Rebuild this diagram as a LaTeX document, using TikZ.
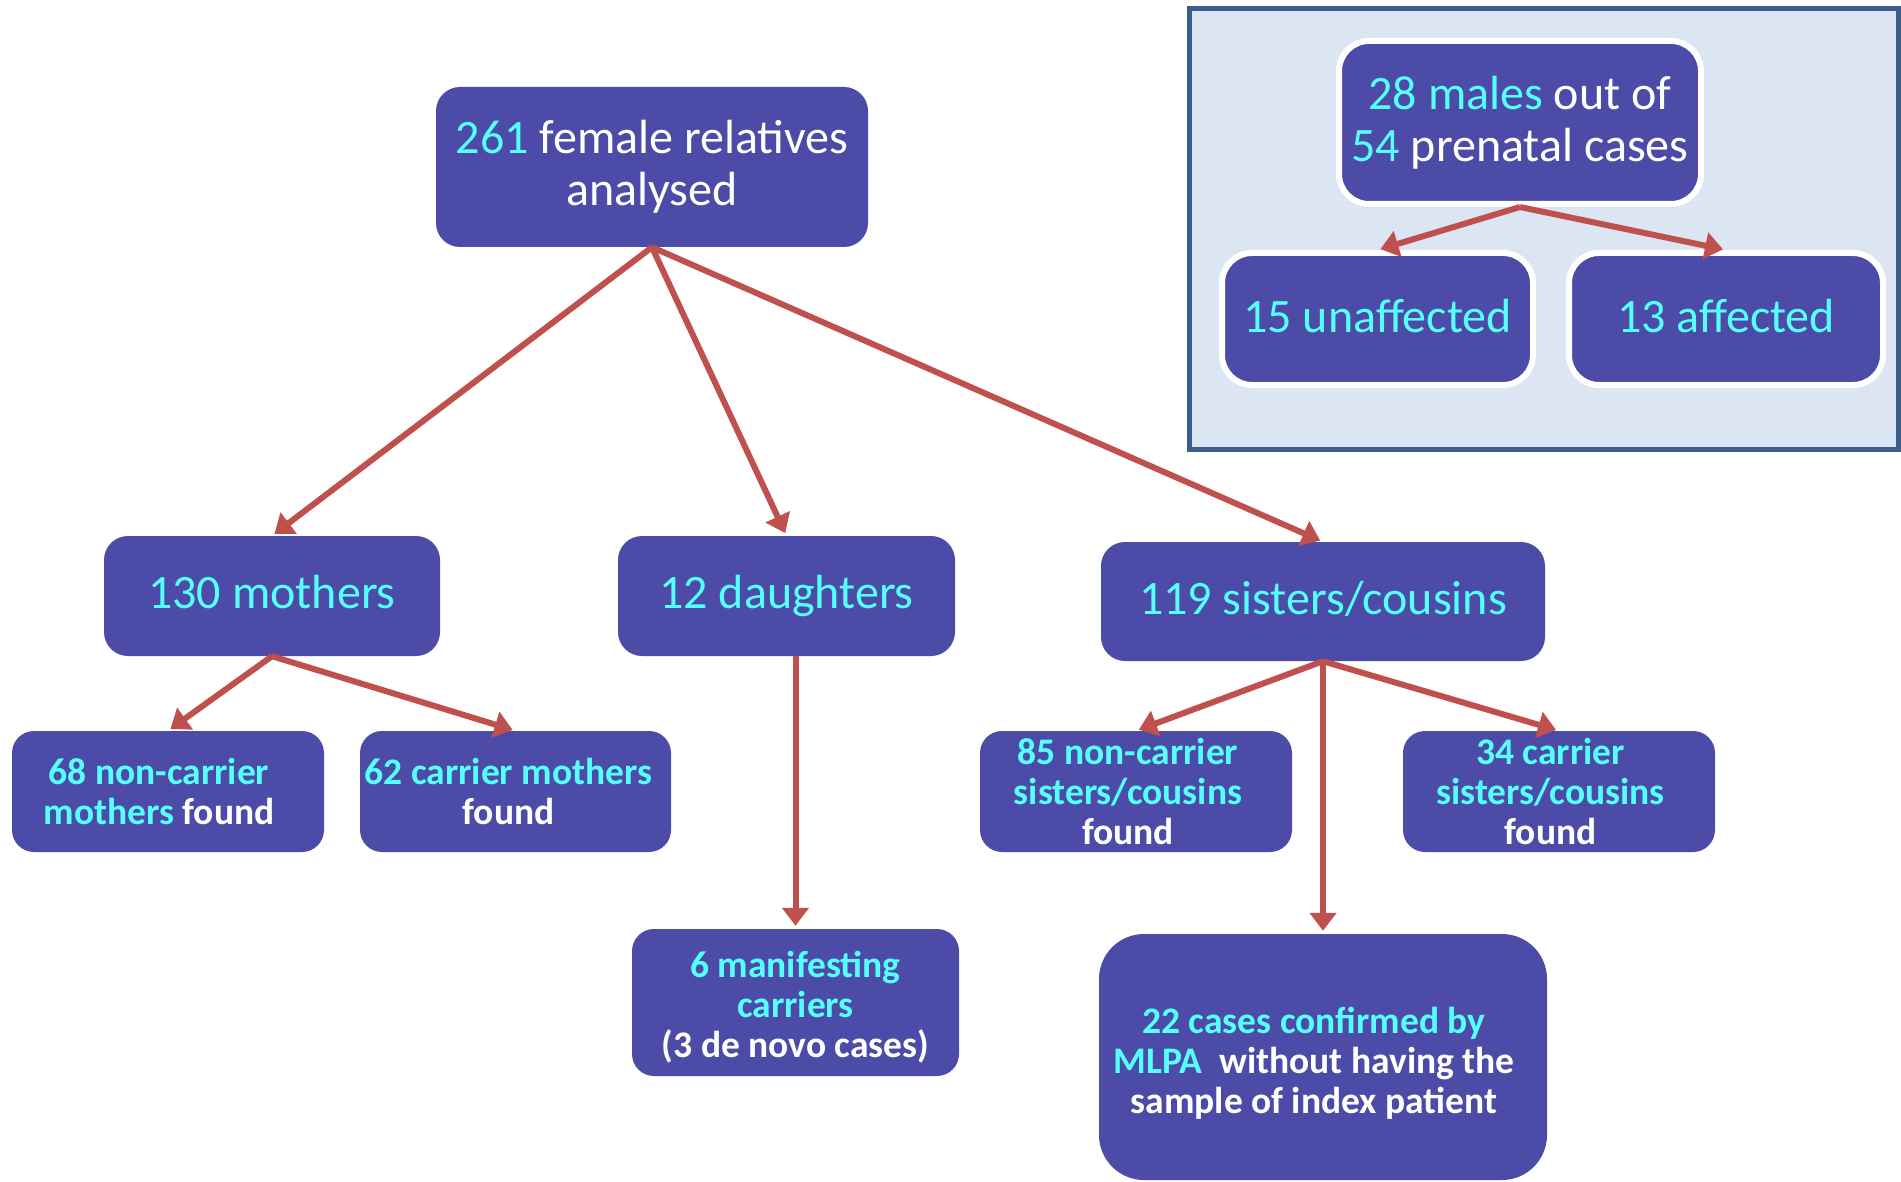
\documentclass[tikz,border=0pt]{standalone}
\usepackage{fontspec}
\setmainfont{Carlito}
\usetikzlibrary{arrows.meta}
\definecolor{boxblue}{RGB}{76,76,168}
\definecolor{cyantext}{RGB}{85,255,255}
\definecolor{arrowred}{RGB}{192,80,77}
\definecolor{panelfill}{RGB}{220,230,242}
\definecolor{panelborder}{RGB}{58,95,143}
\newcommand\cyn[1]{\textcolor{cyantext}{#1}}
% #1 extra right space (= twice the left shift), #2 vertical shift, #3 lines
\newcommand\shifttext[3]{\raisebox{#2}[\height][\depth]{\begin{tabular}{@{}c@{}}#3\end{tabular}}\hspace*{#1}}
\tikzset{
  bigbox/.style={fill=boxblue, rounded corners=24pt, inner sep=0pt, align=center, text=white, font=\fontsize{48}{52}\selectfont},
  smallbox/.style={fill=boxblue, rounded corners=22pt, inner sep=0pt, text=white, font=\fontsize{37.5}{40}\selectfont\bfseries},
  insetbox/.style={bigbox, draw=white, line width=6pt, rounded corners=30pt},
  conn/.style={draw=arrowred, line width=6pt, shorten >=3pt, -{Triangle[width=26pt,length=18pt]}},
}
\begin{document}
\begin{tikzpicture}[x=1pt,y=-1pt]
\fill[white] (0,0) rectangle (1901,1182);
\useasboundingbox (0,0) rectangle (1901,1182);

% inset panel
\draw[fill=panelfill, draw=panelborder, line width=5pt] (1189,9) rectangle (1898,449);
\node[insetbox, minimum width=362pt, minimum height=163pt] (males) at (1520,122.5) {\cyn{28 males} out of\\\cyn{54} prenatal cases};
\node[insetbox, minimum width=311pt, minimum height=132pt] (unaff) at (1377.5,319) {\shifttext{0pt}{-3pt}{\cyn{15 unaffected}}};
\node[insetbox, minimum width=314pt, minimum height=132pt] (aff) at (1726,319) {\shifttext{0pt}{-3pt}{\cyn{13 affected}}};

% main tree
\node[bigbox, minimum width=432pt, minimum height=160pt] (top) at (652,167) {\cyn{261} female relatives\\analysed};
\node[bigbox, minimum width=336pt, minimum height=120pt] (mothers) at (272,596) {\shifttext{0pt}{-2pt}{\cyn{130 mothers}}};
\node[bigbox, minimum width=337pt, minimum height=120pt] (daughters) at (786.5,596) {\cyn{12 daughters}};
\node[bigbox, minimum width=444pt, minimum height=119pt] (sisters) at (1323,601.5) {\shifttext{0pt}{-3pt}{\cyn{119 sisters/cousins}}};

\node[smallbox, minimum width=312pt, minimum height=121pt] (nonmoth) at (168,791.5) {\shifttext{18pt}{-5pt}{\cyn{68 non-carrier}\\\cyn{mothers} found}};
\node[smallbox, minimum width=311pt, minimum height=121pt] (carmoth) at (515.5,791.5) {\shifttext{14pt}{-5pt}{\cyn{62 carrier mothers}\\found}};
\node[smallbox, minimum width=312pt, minimum height=121pt] (noncous) at (1136,791.5) {\shifttext{16pt}{-5pt}{\cyn{85 non-carrier}\\\cyn{sisters/cousins}\\found}};
\node[smallbox, minimum width=312pt, minimum height=121pt] (carcous) at (1559,791.5) {\shifttext{17pt}{-5pt}{\cyn{34 carrier}\\\cyn{sisters/cousins}\\found}};
\node[smallbox, minimum width=327pt, minimum height=147pt] (manif) at (795.5,1002.5) {\shifttext{0pt}{-7pt}{\cyn{6 manifesting}\\\cyn{carriers}\\(3 de novo cases)}};
\node[smallbox, rounded corners=45pt, minimum width=448pt, minimum height=246pt] (mlpa) at (1323,1057) {\shifttext{18pt}{-8.5pt}{\cyn{22 cases confirmed by}\\\cyn{MLPA}\ \ without having the\\sample of index patient}};

% connectors
\draw[conn] (top.south) -- (mothers.north);
\draw[conn] (top.south) -- (daughters.north);
\draw[conn] (top.south) -- (sisters.north);
\draw[conn] (mothers.south) -- (nonmoth.north);
\draw[conn] (mothers.south) -- (carmoth.north);
\draw[conn] (daughters.south -| manif.north) -- (manif.north);
\draw[conn] (sisters.south) -- (noncous.north);
\draw[conn] (sisters.south) -- (carcous.north);
\draw[conn] (sisters.south) -- (mlpa.north);
\draw[conn] (males.south) -- (unaff.north);
\draw[conn] (males.south) -- (aff.north);
\end{tikzpicture}
\end{document}
